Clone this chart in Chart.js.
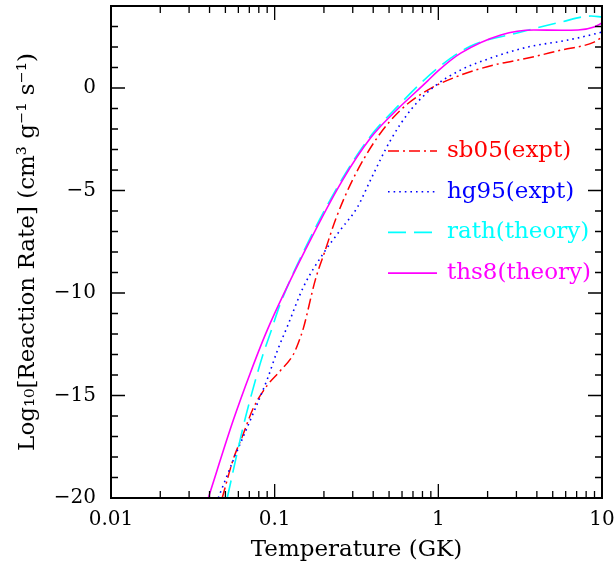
<!DOCTYPE html>
<html>
<head>
<meta charset="utf-8">
<script src="https://cdn.jsdelivr.net/npm/chart.js@4.4.1/dist/chart.umd.min.js"></script>
<style>
  html, body { margin: 0; padding: 0; background: #fff; }
  #wrap { width: 615px; height: 567px; }
</style>
</head>
<body>
<div id="wrap"><canvas id="c"></canvas></div>
<script>
// legend / series names and colours
const seriesLabels = ["sb05(expt)", "hg95(expt)", "rath(theory)", "ths8(theory)"];
const seriesColors = ["#ff0000", "#0000ff", "#00ffff", "#ff00ff"];

// temperature in GK, log10 rate
const sb05T = [0.0478, 0.0559, 0.0634, 0.0742, 0.0902, 0.108, 0.130, 0.140, 0.150, 0.177, 0.204, 0.235, 0.299, 0.426, 0.589, 0.861, 1.37, 2.18, 3.53, 5.62, 8.95, 10];
const sb05Y = [-20, -18.1, -17.0, -15.6, -14.5, -13.8, -13.0, -12.4, -11.7, -9.37, -7.9, -6.44, -4.49, -2.39, -1.07, -0.1, 0.63, 1.12, 1.46, 1.85, 2.24, 2.49];

const hg95T = [0.0452, 0.0559, 0.0710, 0.0902, 0.104, 0.120, 0.150, 0.199, 0.252, 0.321, 0.385, 0.511, 0.678, 0.937, 1.37, 2.18, 3.53, 6.20, 8.95, 10];
const hg95Y = [-20, -18.15, -16.2, -14.2, -12.8, -11.6, -9.7, -8.05, -6.93, -5.80, -4.49, -2.54, -1.07, 0.05, 0.88, 1.51, 2.0, 2.34, 2.63, 2.73];

const rathT = [0.0513, 0.0643, 0.0742, 0.0841, 0.0942, 0.108, 0.154, 0.260, 0.385, 0.533, 1.0, 1.58, 3.20, 5.62, 8.57, 10];
const rathY = [-20, -16.5, -14.6, -13.1, -11.95, -10.55, -7.8, -4.4, -2.35, -1.1, 1.0, 2.05, 2.73, 3.22, 3.51, 3.46];

const ths8T = [0.0393, 0.0559, 0.0710, 0.0902, 0.154, 0.260, 0.385, 0.533, 0.861, 1.0, 1.37, 2.41, 3.84, 5.62, 7.14, 8.95, 10];
const ths8Y = [-20, -16.2, -13.9, -11.8, -7.9, -4.49, -2.44, -1.22, 0.35, 0.85, 1.70, 2.59, 2.83, 2.82, 2.83, 2.98, 3.17];

const xTicks = [0.01, 0.1, 1, 10];
const yTicks = [-20, -15, -10, -5, 0];

const FONT = "'DejaVu Serif', 'Liberation Serif', serif";

function pts(xs, ys) {
  return xs.map((x, i) => ({ x, y: ys[i] }));
}

// PGPLOT style frame with ticks pointing inwards on all four sides
const frameTicks = {
  id: "frameTicks",
  afterDatasetsDraw(chart) {
    const { ctx, chartArea: a, scales: { x, y } } = chart;
    ctx.save();
    ctx.strokeStyle = "#000";
    ctx.lineWidth = 2;
    ctx.strokeRect(a.left, a.top, a.right - a.left, a.bottom - a.top);

    ctx.lineWidth = 1.3;
    ctx.beginPath();
    for (const dec of xTicks) {
      for (let k = 1; k <= 9; k++) {
        const v = dec * k;
        if (v > x.max * 1.0001) break;
        const px = x.getPixelForValue(v);
        const len = k === 1 ? 14 : 7;
        ctx.moveTo(px, a.bottom); ctx.lineTo(px, a.bottom - len);
        ctx.moveTo(px, a.top); ctx.lineTo(px, a.top + len);
      }
    }
    for (let v = Math.ceil(y.min); v < y.max; v++) {
      const py = y.getPixelForValue(v);
      const len = v % 5 === 0 ? 14 : 7;
      ctx.moveTo(a.left, py); ctx.lineTo(a.left + len, py);
      ctx.moveTo(a.right, py); ctx.lineTo(a.right - len, py);
    }
    ctx.stroke();
    ctx.restore();
  },
  afterDraw(chart) {
    const { ctx, chartArea: a } = chart;
    ctx.save();
    ctx.font = "23px " + FONT;
    ctx.textBaseline = "middle";
    chart.data.datasets.forEach((ds, i) => {
      const yy = a.top + 145 + i * 40.7;
      const x0 = a.right - 214;
      ctx.strokeStyle = ds.borderColor;
      ctx.lineWidth = ds.borderWidth;
      ctx.setLineDash(ds.borderDash || []);
      ctx.beginPath();
      ctx.moveTo(x0, yy);
      ctx.lineTo(x0 + 49, yy);
      ctx.stroke();
      ctx.setLineDash([]);
      ctx.fillStyle = ds.borderColor;
      ctx.fillText(ds.label, x0 + 59, yy);
    });
    ctx.restore();
  }
};

new Chart(document.getElementById("c"), {
  type: "line",
  data: {
    datasets: [
      { label: seriesLabels[0], data: pts(sb05T, sb05Y), borderColor: seriesColors[0], borderWidth: 1.5, borderDash: [11, 4, 2, 4], order: 4 },
      { label: seriesLabels[1], data: pts(hg95T, hg95Y), borderColor: seriesColors[1], borderWidth: 1.6, borderDash: [1.6, 4], order: 3 },
      { label: seriesLabels[2], data: pts(rathT, rathY), borderColor: seriesColors[2], borderWidth: 1.6, borderDash: [18, 8], order: 2 },
      { label: seriesLabels[3], data: pts(ths8T, ths8Y), borderColor: seriesColors[3], borderWidth: 1.6, order: 1 },
    ],
  },
  options: {
    responsive: true,
    maintainAspectRatio: false,
    animation: false,
    layout: { padding: { top: 6, right: 13, left: 0, bottom: 0 } },
    elements: {
      point: { radius: 0 },
      line: { cubicInterpolationMode: "monotone", fill: false },
    },
    plugins: { legend: { display: false }, tooltip: { enabled: false } },
    scales: {
      x: {
        type: "logarithmic",
        min: 0.01,
        max: 10,
        grid: { display: false, drawTicks: false },
        border: { display: false },
        afterBuildTicks: (s) => { s.ticks = xTicks.map((v) => ({ value: v })); },
        afterFit: (s) => {
          s.height = 69;
          s.paddingLeft = 0;
          s.paddingRight = 0;
        },
        ticks: {
          font: { family: FONT, size: 20 },
          color: "#000",
          padding: 10,
          maxRotation: 0,
          autoSkip: false,
          callback: (v) => String(v),
        },
        title: {
          display: true,
          text: "Temperature (GK)",
          color: "#000",
          font: { family: FONT, size: 23 },
          padding: { top: 0, bottom: 3 },
        },
      },
      y: {
        min: -20,
        max: 4,
        grid: { display: false, drawTicks: false },
        border: { display: false },
        afterBuildTicks: (s) => { s.ticks = yTicks.map((v) => ({ value: v })); },
        afterFit: (s) => {
          s.width = 111;
          s.paddingTop = 0;
          s.paddingBottom = 0;
        },
        ticks: {
          font: { family: FONT, size: 20 },
          color: "#000",
          padding: 15,
          callback: (v) => (v < 0 ? "\u2212" + Math.abs(v) : String(v)),
        },
        title: {
          display: true,
          text: "Log\u2081\u2080[Reaction Rate] (cm\u00b3 g\u207b\u00b9 s\u207b\u00b9)",
          color: "#000",
          font: { family: FONT, size: 23 },
          padding: { top: 14, bottom: 0 },
        },
      },
    },
  },
  plugins: [frameTicks],
});
</script>
</body>
</html>
